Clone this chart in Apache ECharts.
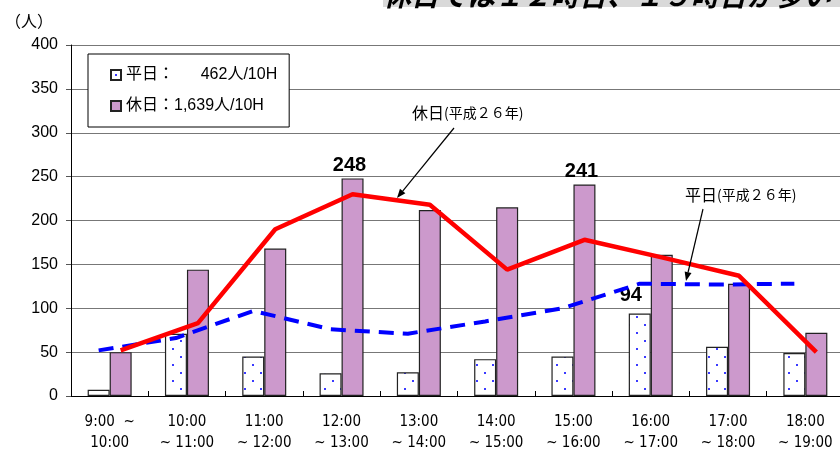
<!DOCTYPE html>
<html>
<head>
<meta charset="utf-8">
<script src="https://cdn.jsdelivr.net/npm/echarts@6/dist/echarts.min.js"></script>
<style>
  html, body { margin: 0; padding: 0; background: #fff; }
  #chart { width: 840px; height: 452px; }
</style>
</head>
<body>
<div id="chart"></div>
<script>
// 時間帯
const categories = ['9:00  ~\n10:00', '10:00\n~ 11:00', '11:00\n~ 12:00', '12:00\n~ 13:00', '13:00\n~ 14:00',
  '14:00\n~ 15:00', '15:00\n~ 16:00', '16:00\n~ 17:00', '17:00\n~ 18:00', '18:00\n~ 19:00'];
// 棒：平日 / 休日（人）
const weekdayBars = [7, 71, 45, 26, 27, 42, 45, 94, 56, 49];
const holidayBars = [50, 144, 168, 248, 212, 215, 241, 161, 128, 72];
// 折れ線：平成26年
const weekdayLine26 = [52, 66, 97, 76, 71, 85, 100, 128, 127, 128];
const holidayLine26 = [52, 83, 190, 230, 218, 144, 178, 158, 137, 50];
// 数値ラベルを付ける棒
const weekdayLabelled = [7];
const holidayLabelled = [3, 6];

const FONT = '"Liberation Sans", Arial, "Noto Sans CJK JP", sans-serif';
const NARROW = '"Liberation Sans Narrow", "DejaVu Sans Condensed", sans-serif';
const CJK = '"Noto Sans CJK JP", sans-serif';

const chart = echarts.init(document.getElementById('chart'));

// 平日の棒のドット模様
function dotPattern() {
  const c = document.createElement('canvas');
  c.width = 16;
  c.height = 16;
  const g = c.getContext('2d');
  g.fillStyle = '#fff';
  g.fillRect(0, 0, 16, 16);
  g.fillStyle = '#3a3aff';
  g.fillRect(4, 4, 2, 2);
  g.fillRect(12, 12, 2, 2);
  return c;
}

function arrow(x1, y1, x2, y2) {
  const a = Math.atan2(y2 - y1, x2 - x1);
  const L = 9, W = 3.5;
  const bx = x2 - L * Math.cos(a), by = y2 - L * Math.sin(a);
  return [
    { type: 'line', z: 50, shape: { x1: x1, y1: y1, x2: bx, y2: by }, style: { stroke: '#000', lineWidth: 1.2 } },
    { type: 'polygon', z: 50, shape: { points: [[x2, y2], [bx + W * Math.sin(a), by - W * Math.cos(a)], [bx - W * Math.sin(a), by + W * Math.cos(a)]] }, style: { fill: '#000' } }
  ];
}

const sum = (arr) => arr.reduce((s, v) => s + v, 0);
const legendText = {
  '平日': '平日：  ' + sum(weekdayBars).toLocaleString('en-US').padStart(5, '\u2007') + '人/10H',
  '休日': '休日：' + sum(holidayBars).toLocaleString('en-US') + '人/10H'
};

const gridLeft = 71, gridRight = -4;
const barWidth = 22;
const bandWidth = (840 - gridLeft - gridRight) / categories.length;
const off = (barWidth / 2) / bandWidth;

const barLabel = (show, offset) => ({
  show: show,
  position: 'top',
  distance: 3,
  offset: offset,
  color: '#000',
  fontFamily: FONT,
  fontWeight: 'bold',
  fontSize: 20
});

const noteText = (x, y, head) => ({
  type: 'text', x: x, y: y, z: 50,
  style: {
    text: '{a|' + head + '}{b|(平成２６年)}', verticalAlign: 'middle',
    rich: { a: { fontSize: 16, fontFamily: CJK, fill: '#000' }, b: { fontSize: 14, fontFamily: CJK, fill: '#000' } }
  }
});

const option = {
  backgroundColor: '#fff',
  animation: false,
  grid: { left: gridLeft, right: gridRight, top: 45, bottom: 56, outerBoundsMode: 'none' },
  legend: {
    data: ['平日', '休日'],
    orient: 'vertical',
    left: 88,
    top: 54,
    padding: [13, 12, 13, 22],
    itemGap: 15,
    itemWidth: 10,
    itemHeight: 10,
    icon: 'rect',
    backgroundColor: '#fff',
    borderColor: '#000',
    borderWidth: 1,
    formatter: (name) => legendText[name],
    textStyle: { fontSize: 16, color: '#000', fontFamily: FONT }
  },
  xAxis: [
    {
      type: 'category',
      data: categories,
      axisLine: { lineStyle: { color: '#000', width: 1 } },
      axisTick: { show: true, inside: true, length: 5, lineStyle: { color: '#000' } },
      axisLabel: { interval: 0, color: '#000', fontSize: 15, lineHeight: 21, margin: 16, fontFamily: NARROW }
    },
    { type: 'value', min: 0, max: categories.length, show: false }
  ],
  yAxis: {
    type: 'value',
    min: 0,
    max: 400,
    interval: 50,
    axisLine: { show: true, lineStyle: { color: '#000', width: 1 } },
    axisTick: { show: true, length: 5, lineStyle: { color: '#555' } },
    splitLine: { lineStyle: { color: '#777', width: 1 } },
    axisLabel: { color: '#000', fontSize: 16, margin: 13, fontFamily: FONT }
  },
  graphic: [
    { type: 'rect', shape: { x: 383, y: 0, width: 457, height: 7 }, style: { fill: '#d9d9d9' }, z: 40 },
    { type: 'text', x: 383, y: 9, z: 41, style: { text: '休日では１２時台、１５時台が多い', fill: '#000', font: 'italic bold 28px "Noto Sans CJK JP"', verticalAlign: 'bottom' } },
    { type: 'text', x: 5, y: 21, z: 41, style: { text: '（人）', fill: '#000', font: '16px "Noto Sans CJK JP"', verticalAlign: 'middle' } },
    noteText(412, 113, '休日'),
    noteText(685, 195, '平日'),
    ...arrow(454, 128, 397, 198),
    ...arrow(703, 209, 686, 281)
  ],
  series: [
    {
      name: '平日',
      type: 'bar',
      barWidth: barWidth,
      barGap: '0%',
      itemStyle: { color: { image: dotPattern(), repeat: 'repeat' }, borderColor: '#222', borderWidth: 1.2 },
      data: weekdayBars.map((v, i) => ({ value: v, label: barLabel(weekdayLabelled.includes(i), [-9, -5]) }))
    },
    {
      name: '休日',
      type: 'bar',
      barWidth: barWidth,
      barGap: '0%',
      itemStyle: { color: '#cc99cc', borderColor: '#222', borderWidth: 1.2 },
      data: holidayBars.map((v, i) => ({ value: v, label: barLabel(holidayLabelled.includes(i), [-3, 0]) }))
    },
    {
      name: '平日（平成26年）',
      type: 'line',
      xAxisIndex: 1,
      symbol: 'none',
      z: 3,
      lineStyle: { color: '#0000ff', width: 4, type: [15, 9] },
      data: weekdayLine26.map((v, i) => [i + 0.5 - off, v])
    },
    {
      name: '休日（平成26年）',
      type: 'line',
      xAxisIndex: 1,
      symbol: 'none',
      z: 4,
      lineStyle: { color: '#ff0000', width: 4.5 },
      data: holidayLine26.map((v, i) => [i + 0.5 + off, v])
    }
  ]
};

chart.setOption(option);
</script>
</body>
</html>
